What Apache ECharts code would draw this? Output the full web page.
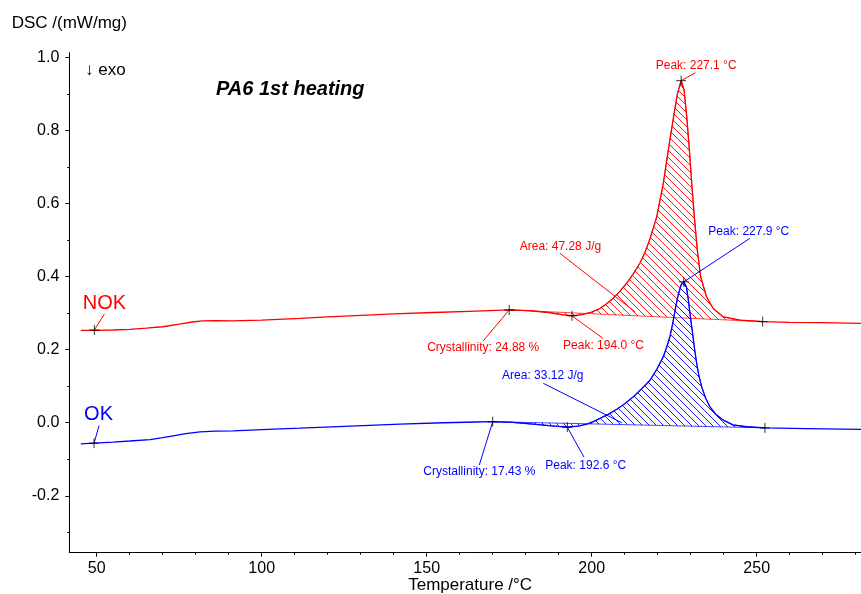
<!DOCTYPE html>
<html><head><meta charset="utf-8">
<script src="https://cdn.jsdelivr.net/npm/echarts@6/dist/echarts.min.js"></script>
<style>html,body{margin:0;padding:0;background:#fff}#c{width:861px;height:594px}</style>
</head><body><div id="c"></div>
<script>
// ---- axis ticks ----
const xMajorTicks = [50, 100, 150, 200, 250];
const xMinorTicks = [60, 70, 80, 90, 110, 120, 130, 140, 160, 170, 180, 190, 210, 220, 230, 240, 260, 270, 280];
const yMajorTicks = [-0.2, 0, 0.2, 0.4, 0.6, 0.8, 1.0];
const yMinorTicks = [-0.3, -0.1, 0.1, 0.3, 0.5, 0.7, 0.9];
const xRange = [41.7, 281.6];
const yRange = [-0.356, 1.0137];

// ---- curves (Temperature °C, DSC mW/mg) ----
const nokCurve = [[45.2,0.253],[50,0.253],[55,0.254],[60,0.256],[65,0.259],[70,0.263],[75,0.270],[79,0.276],[82,0.279],[86,0.280],[91,0.279],[100,0.281],[111.6,0.286],[120,0.290],[131.8,0.295],[140,0.298],[152,0.302],[165,0.306],[175,0.309],[181,0.307],[187,0.302],[191,0.296],[194,0.293],[197,0.296],[200,0.303],[202.5,0.313],[204.5,0.326],[206.5,0.341],[208.5,0.360],[210.6,0.382],[212.6,0.408],[214.6,0.437],[216.2,0.468],[217.7,0.505],[219.7,0.564],[221.7,0.656],[223.2,0.747],[224.8,0.838],[226,0.902],[227.1,0.937],[228,0.911],[228.8,0.838],[229.6,0.747],[230.3,0.656],[231.1,0.564],[232.0,0.473],[233.0,0.400],[234.8,0.345],[236.8,0.313],[239.9,0.290],[245,0.281],[251.8,0.277],[260,0.275],[270,0.274],[281.6,0.272]];
const okCurve = [[45.2,-0.058],[49.2,-0.056],[55,-0.053],[60,-0.050],[66.2,-0.046],[70,-0.041],[73.2,-0.036],[77,-0.030],[81.3,-0.025],[86,-0.023],[91.4,-0.022],[100,-0.019],[111.6,-0.015],[125,-0.010],[141.9,-0.004],[155,0.000],[165,0.002],[170,0.003],[176,0.001],[182.3,-0.004],[187,-0.008],[192.6,-0.012],[196,-0.009],[198.5,-0.004],[200.5,0.003],[202.5,0.012],[205,0.023],[207.6,0.037],[210,0.052],[212.6,0.071],[215,0.092],[217.7,0.117],[219.7,0.146],[221.7,0.181],[223.0,0.215],[223.7,0.236],[224.5,0.27],[225.3,0.31],[226.2,0.350],[227.1,0.378],[227.9,0.386],[228.7,0.372],[229.3,0.335],[229.9,0.29],[230.5,0.25],[231.2,0.20],[231.8,0.163],[232.5,0.128],[233.3,0.099],[234.5,0.068],[235.8,0.044],[237.5,0.024],[239.9,0.007],[242.8,-0.006],[247,-0.011],[252.5,-0.014],[265,-0.016],[281.6,-0.018]];

// ---- evaluation points (markers) ----
const nokMarkers = [[49.3,0.254],[175.0,0.309],[194.0,0.293],[251.8,0.277],[227.1,0.937]];
const okMarkers  = [[49.2,-0.056],[170.0,0.003],[192.6,-0.012],[252.5,-0.014],[227.9,0.386]];
// integration limits (baseline endpoints)
const nokArea = [[175.0,0.309],[251.8,0.277]];
const okArea  = [[170.0,0.003],[252.5,-0.014]];

// ---- annotation texts, anchored at [T, value] ----
const nokAnnotations = [[49.3,0.254,'NOK'],[175.0,0.309,'Crystallinity: 24.88 %'],[194.0,0.293,'Peak: 194.0 °C'],[213.1,0.304,'Area: 47.28 J/g'],[227.1,0.937,'Peak: 227.1 °C']];
const okAnnotations  = [[49.2,-0.056,'OK'],[170.0,0.003,'Crystallinity: 17.43 %'],[192.6,-0.012,'Peak: 192.6 °C'],[209.1,0.0,'Area: 33.12 J/g'],[227.9,0.386,'Peak: 227.9 °C']];

// ---- layout (pixel offsets of label centre and leader end from anchor) ----
const nokLayout = [
  {dx:10, dy:-26.5, lx:10, ly:-16, size:20},
  {dx:-26, dy:38, lx:-26, ly:31, size:12},
  {dx:31.6, dy:29.6, lx:31, ly:22.6, size:12},
  {dx:-74.5, dy:-65, lx:-75, ly:-58.4, size:12},
  {dx:15, dy:-15, lx:14.3, ly:-8, size:12}
];
const okLayout = [
  {dx:4.5, dy:-28.5, lx:5, ly:-17.6, size:20},
  {dx:-13.4, dy:49.6, lx:-13.4, ly:43.3, size:12},
  {dx:18.4, dy:39, lx:16.7, ly:30, size:12},
  {dx:-79, dy:-47, lx:-78.4, ly:-39.4, size:12},
  {dx:65, dy:-50.4, lx:66, ly:-43.4, size:12}
];

const RED = '#ff0000', BLUE = '#0000ff';
const FONT = '"Liberation Sans", Arial, Helvetica, sans-serif';

function hatchPattern(color) {
  const s = 7;
  const c = document.createElement('canvas');
  c.width = s; c.height = s;
  const g = c.getContext('2d');
  g.strokeStyle = color; g.lineWidth = 1;
  g.beginPath();
  g.moveTo(-1, -1); g.lineTo(s + 1, s + 1);
  g.moveTo(-1, s - 1); g.lineTo(1, s + 1);
  g.moveTo(s - 1, -1); g.lineTo(s + 1, 1);
  g.stroke();
  return { image: c, repeat: 'repeat' };
}

function hatchSeries(curve, limits, color) {
  const pat = hatchPattern(color);
  return {
    type: 'custom', xAxisIndex: 0, yAxisIndex: 0, z: 1, clip: true, silent: true,
    data: [limits[0]],
    renderItem: function (params, api) {
      const pts = [api.coord(limits[0])];
      curve.forEach(function (p) {
        if (p[0] > limits[0][0] && p[0] < limits[1][0]) pts.push(api.coord(p));
      });
      pts.push(api.coord(limits[1]));
      return {
        type: 'polygon',
        shape: { points: pts },
        style: { fill: pat, stroke: color, lineWidth: 0.8, opacity: 0.9 }
      };
    }
  };
}

function annotationSeries(ann, layout, color) {
  return {
    type: 'custom', xAxisIndex: 0, yAxisIndex: 0, z: 5, clip: false, silent: true,
    data: ann.map(function (a) { return [a[0], a[1]]; }),
    renderItem: function (params, api) {
      const i = params.dataIndex;
      const a = ann[i], L = layout[i];
      const p = api.coord([a[0], a[1]]);
      return {
        type: 'group',
        children: [
          { type: 'line', shape: { x1: p[0], y1: p[1], x2: p[0] + L.lx, y2: p[1] + L.ly },
            style: { stroke: color, lineWidth: 1 } },
          { type: 'text', x: p[0] + L.dx, y: p[1] + L.dy,
            style: { text: a[2], fill: color, font: L.size + 'px ' + FONT,
                     align: 'center', verticalAlign: 'middle' } }
        ]
      };
    }
  };
}

function markerSeries(data) {
  return {
    type: 'scatter', xAxisIndex: 0, yAxisIndex: 0, z: 6, silent: true,
    symbol: 'path://M0,5L10,5M5,0L5,10', symbolSize: 10,
    itemStyle: { color: 'none', borderColor: '#000', borderWidth: 1 },
    data: data
  };
}

function lineSeries(data, color) {
  return {
    type: 'line', xAxisIndex: 0, yAxisIndex: 0, z: 3, silent: true,
    data: data, showSymbol: false, symbol: 'none',
    lineStyle: { color: color, width: 1.3 }
  };
}

const axisLabelStyle = { color: '#000', fontSize: 16, fontFamily: FONT };

const chart = echarts.init(document.getElementById('c'), null, { renderer: 'canvas' });
chart.setOption({
  animation: false,
  backgroundColor: '#fff',
  grid: { left: 69.3, right: 0, top: 52.7, bottom: 41.3, containLabel: false, outerBoundsMode: 'none' },
  xAxis: [
    {
      type: 'value', position: 'bottom', min: xRange[0], max: xRange[1],
      name: 'Temperature /°C', nameLocation: 'middle', nameGap: 24, nameMoveOverlap: false,
      nameTextStyle: { color: '#000', fontSize: 17, fontFamily: FONT, padding: [0, 0, 0, 10] },
      axisLine: { show: true, onZero: false, lineStyle: { color: '#000', width: 1 } },
      axisTick: { show: true, inside: false, length: 4, customValues: xMajorTicks, lineStyle: { color: '#000' } },
      axisLabel: { show: true, margin: 8, customValues: xMajorTicks, ...axisLabelStyle },
      splitLine: { show: false }, minorTick: { show: false }
    },
    {
      type: 'value', position: 'bottom', min: xRange[0], max: xRange[1],
      axisLine: { show: false, onZero: false },
      axisTick: { show: true, inside: false, length: 2, customValues: xMinorTicks, lineStyle: { color: '#000' } },
      axisLabel: { show: false },
      splitLine: { show: false }
    }
  ],
  yAxis: [
    {
      type: 'value', position: 'left', min: yRange[0], max: yRange[1],
      name: 'DSC /(mW/mg)', nameLocation: 'end', nameGap: 21, nameMoveOverlap: false,
      nameTextStyle: { color: '#000', fontSize: 17, fontFamily: FONT, align: 'center' },
      axisLine: { show: true, onZero: false, lineStyle: { color: '#000', width: 1 } },
      axisTick: { show: true, inside: false, length: 4, customValues: yMajorTicks, lineStyle: { color: '#000' } },
      axisLabel: { show: true, margin: 10, customValues: yMajorTicks,
                   formatter: function (v) { return v.toFixed(1); }, ...axisLabelStyle },
      splitLine: { show: false }
    },
    {
      type: 'value', position: 'left', min: yRange[0], max: yRange[1],
      axisLine: { show: false, onZero: false },
      axisTick: { show: true, inside: false, length: 2, customValues: yMinorTicks, lineStyle: { color: '#000' } },
      axisLabel: { show: false },
      splitLine: { show: false }
    }
  ],
  graphic: [
    { type: 'text', x: 85, y: 70, style: { text: '↓ exo', font: '17px ' + FONT, fill: '#000', verticalAlign: 'middle' } },
    { type: 'text', x: 216, y: 89.8, style: { text: 'PA6 1st heating', font: 'italic bold 20px ' + FONT, fill: '#000', verticalAlign: 'middle' } }
  ],
  series: [
    hatchSeries(nokCurve, nokArea, RED),
    hatchSeries(okCurve, okArea, BLUE),
    lineSeries(nokCurve, RED),
    lineSeries(okCurve, BLUE),
    annotationSeries(nokAnnotations, nokLayout, RED),
    annotationSeries(okAnnotations, okLayout, BLUE),
    markerSeries(nokMarkers),
    markerSeries(okMarkers)
  ]
});
</script>
</body></html>
